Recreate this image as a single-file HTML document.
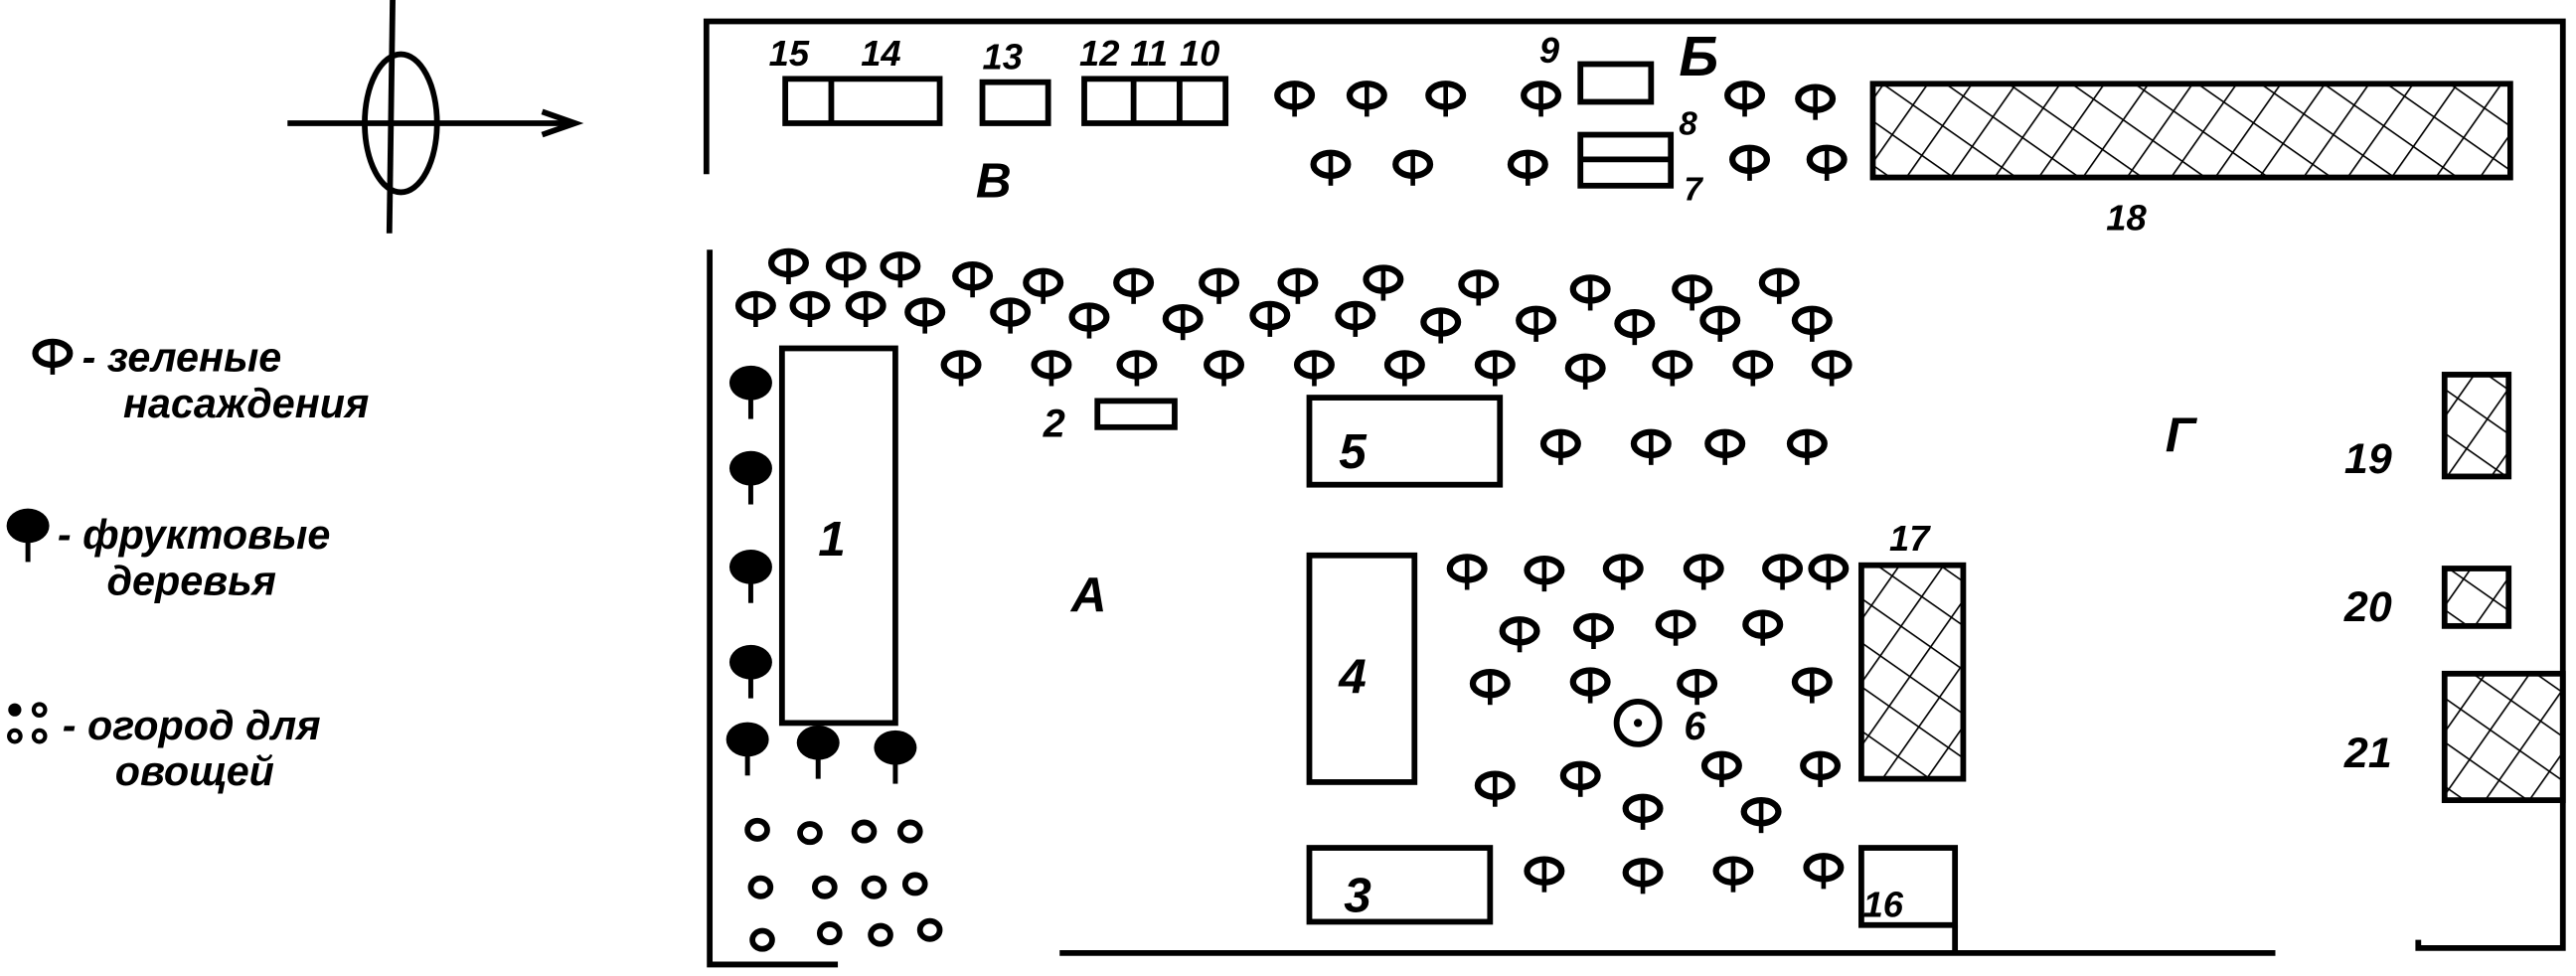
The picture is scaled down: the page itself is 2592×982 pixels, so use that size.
<!DOCTYPE html>
<html><head><meta charset="utf-8">
<style>
html,body{margin:0;padding:0;background:#fff;}
svg{display:block;}
text{font-family:"Liberation Sans",sans-serif;font-style:italic;fill:#000;font-weight:bold;}
</style></head><body>
<svg width="2592" height="982" viewBox="0 0 1568 594" preserveAspectRatio="none" xmlns="http://www.w3.org/2000/svg">
<defs>
<pattern id="h" width="22" height="22" patternUnits="userSpaceOnUse" patternTransform="rotate(35)">
<line x1="0" y1="0" x2="0" y2="22" stroke="#000" stroke-width="2"/>
<line x1="0" y1="0" x2="22" y2="0" stroke="#000" stroke-width="2"/>
</pattern>
<g id="t"><ellipse cx="0" cy="0" rx="10.5" ry="7" fill="none" stroke="#000" stroke-width="3.8"/><line x1="0" y1="-7" x2="0" y2="13" stroke="#000" stroke-width="2.8"/></g>
<g id="f"><ellipse cx="0" cy="0" rx="13" ry="10.5" fill="#000"/><line x1="0" y1="0" x2="0" y2="22" stroke="#000" stroke-width="3"/></g>
<g id="o"><ellipse cx="0" cy="0" rx="6" ry="5.5" fill="none" stroke="#000" stroke-width="3.5"/></g>
</defs>
<g stroke="#000" stroke-width="3.5" fill="none">
<ellipse cx="244" cy="75" rx="22" ry="42"/>
<line x1="239" y1="0" x2="237" y2="142"/>
<line x1="175" y1="75" x2="348" y2="75"/>
<polyline points="330,68 350,75 330,82"/>
<polyline points="430,106 430,13 1560,13 1560,577 1472,577 1472,572"/>
<polyline points="432,152 432,587 510,587"/>
<line x1="645" y1="580" x2="1385" y2="580"/>
<line x1="1190" y1="563" x2="1190" y2="580"/>
<rect x="478" y="48" width="94" height="27"/><line x1="506" y1="48" x2="506" y2="75"/>
<rect x="598" y="50" width="40" height="25"/>
<rect x="660" y="48" width="86" height="27"/><line x1="690" y1="48" x2="690" y2="75"/><line x1="718" y1="48" x2="718" y2="75"/>
<rect x="962" y="39" width="43" height="23"/>
<rect x="962" y="82" width="55" height="31"/><line x1="962" y1="97" x2="1017" y2="97"/>
<rect x="1140" y="51" width="388" height="57" fill="url(#h)"/>
<rect x="476" y="212" width="69" height="228"/>
<rect x="668" y="244" width="47" height="16"/>
<rect x="797" y="242" width="116" height="53"/>
<rect x="797" y="338" width="64" height="138"/>
<rect x="797" y="516" width="110" height="45"/>
<rect x="1133" y="516" width="57" height="47"/>
<rect x="1133" y="344" width="62" height="130" fill="url(#h)"/>
<rect x="1488" y="228" width="39" height="62" fill="url(#h)"/>
<rect x="1488" y="346" width="39" height="35" fill="url(#h)"/>
<rect x="1488" y="410" width="72" height="77" fill="url(#h)"/>
<circle cx="997" cy="440" r="13"/>
</g>
<circle cx="997" cy="440" r="2.5" fill="#000"/>
<g>
<use href="#t" x="788" y="58"/><use href="#t" x="832" y="58"/><use href="#t" x="880" y="58"/><use href="#t" x="938" y="58"/><use href="#t" x="1062" y="58"/><use href="#t" x="1105" y="60"/>
<use href="#t" x="810" y="100"/><use href="#t" x="860" y="100"/><use href="#t" x="930" y="100"/><use href="#t" x="1065" y="97"/><use href="#t" x="1112" y="97"/>
<use href="#t" x="480" y="160"/><use href="#t" x="515" y="162"/><use href="#t" x="548" y="162"/><use href="#t" x="592" y="168"/><use href="#t" x="635" y="172"/><use href="#t" x="690" y="172"/><use href="#t" x="742" y="172"/><use href="#t" x="790" y="172"/><use href="#t" x="842" y="170"/><use href="#t" x="900" y="173"/><use href="#t" x="968" y="176"/><use href="#t" x="1030" y="176"/><use href="#t" x="1083" y="172"/>
<use href="#t" x="460" y="186"/><use href="#t" x="493" y="186"/><use href="#t" x="527" y="186"/><use href="#t" x="563" y="190"/><use href="#t" x="615" y="190"/><use href="#t" x="663" y="193"/><use href="#t" x="720" y="194"/><use href="#t" x="773" y="192"/><use href="#t" x="825" y="192"/><use href="#t" x="877" y="196"/><use href="#t" x="935" y="195"/><use href="#t" x="995" y="197"/><use href="#t" x="1047" y="195"/><use href="#t" x="1103" y="195"/>
<use href="#t" x="585" y="222"/><use href="#t" x="640" y="222"/><use href="#t" x="692" y="222"/><use href="#t" x="745" y="222"/><use href="#t" x="800" y="222"/><use href="#t" x="855" y="222"/><use href="#t" x="910" y="222"/><use href="#t" x="965" y="224"/><use href="#t" x="1018" y="222"/><use href="#t" x="1067" y="222"/><use href="#t" x="1115" y="222"/>
<use href="#t" x="950" y="270"/><use href="#t" x="1005" y="270"/><use href="#t" x="1050" y="270"/><use href="#t" x="1100" y="270"/>
<use href="#t" x="893" y="346"/><use href="#t" x="940" y="347"/><use href="#t" x="988" y="346"/><use href="#t" x="1037" y="346"/><use href="#t" x="1085" y="346"/><use href="#t" x="1113" y="346"/>
<use href="#t" x="925" y="384"/><use href="#t" x="970" y="382"/><use href="#t" x="1020" y="380"/><use href="#t" x="1073" y="380"/>
<use href="#t" x="907" y="416"/><use href="#t" x="968" y="415"/><use href="#t" x="1033" y="416"/><use href="#t" x="1103" y="415"/>
<use href="#t" x="910" y="478"/><use href="#t" x="962" y="472"/><use href="#t" x="1048" y="466"/><use href="#t" x="1108" y="466"/>
<use href="#t" x="1000" y="492"/><use href="#t" x="1072" y="494"/>
<use href="#t" x="940" y="530"/><use href="#t" x="1000" y="531"/><use href="#t" x="1055" y="530"/><use href="#t" x="1110" y="528"/>
<use href="#t" x="32" y="215"/>
</g>
<use href="#f" x="457" y="233"/><use href="#f" x="457" y="285"/><use href="#f" x="457" y="345"/><use href="#f" x="457" y="403"/><use href="#f" x="455" y="450"/><use href="#f" x="498" y="452"/><use href="#f" x="545" y="455"/>
<use href="#f" x="17" y="320"/>
<use href="#o" x="461" y="505"/><use href="#o" x="493" y="507"/><use href="#o" x="526" y="506"/><use href="#o" x="554" y="506"/>
<use href="#o" x="463" y="540"/><use href="#o" x="502" y="540"/><use href="#o" x="532" y="540"/><use href="#o" x="557" y="538"/>
<use href="#o" x="464" y="572"/><use href="#o" x="505" y="568"/><use href="#o" x="536" y="569"/><use href="#o" x="566" y="566"/>
<circle cx="9" cy="432" r="4" fill="#000"/><circle cx="24" cy="432" r="3.5" fill="none" stroke="#000" stroke-width="2.5"/><circle cx="9" cy="448" r="3.5" fill="none" stroke="#000" stroke-width="2.5"/><circle cx="24" cy="448" r="3.5" fill="none" stroke="#000" stroke-width="2.5"/>
<g font-size="22">
<text x="468" y="40">15</text><text x="524" y="40">14</text><text x="598" y="42">13</text><text x="657" y="40">12</text><text x="688" y="40">11</text><text x="718" y="40">10</text>
<text x="937" y="38">9</text><text x="1022" y="82" font-size="20">8</text><text x="1025" y="122" font-size="20">7</text>
<text x="1282" y="140">18</text>
<text x="635" y="266" font-size="24">2</text><text x="1150" y="335">17</text>
<text x="1427" y="288" font-size="26">19</text><text x="1427" y="378" font-size="26">20</text><text x="1427" y="467" font-size="26">21</text>
<text x="1134" y="558">16</text>
</g>
<g font-size="30">
<text x="498" y="338" font-weight="normal">1</text><text x="815" y="422" font-weight="normal">4</text><text x="815" y="285" font-weight="normal">5</text><text x="818" y="555" font-weight="normal">3</text>
<text x="1025" y="450" font-size="24">6</text>
<text x="594" y="120">В</text><text x="1022" y="46" font-size="34">Б</text>
<text x="652" y="372" font-style="normal" font-weight="normal">A</text><text x="1318" y="275">Г</text>
</g>
<g font-size="25" font-weight="normal">
<text x="50" y="226" font-weight="normal">- зеленые</text>
<text x="75" y="254" font-weight="normal">насаждения</text>
<text x="35" y="334" font-weight="normal">- фруктовые</text>
<text x="65" y="362" font-weight="normal">деревья</text>
<text x="38" y="450" font-weight="normal">- огород для</text>
<text x="70" y="478" font-weight="normal">овощей</text>
</g>
</svg>
</body></html>
